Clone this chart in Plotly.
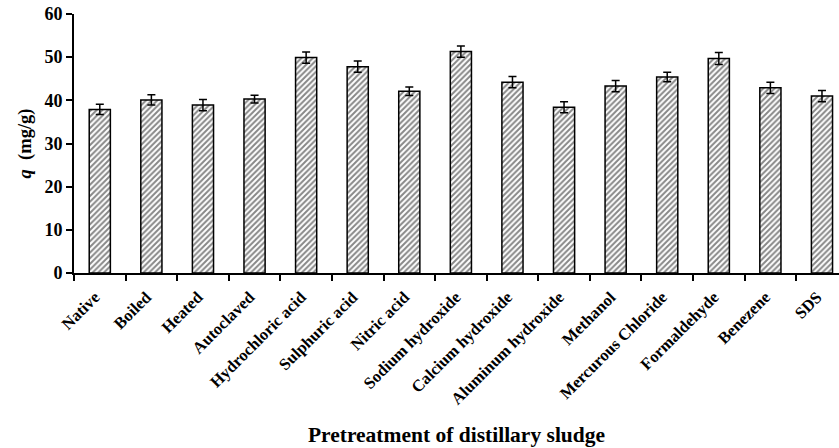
import plotly.graph_objects as go

# Sorption capacity after each pretreatment of distillery sludge
treatments = [
    "Native", "Boiled", "Heated", "Autoclaved", "Hydrochloric acid",
    "Sulphuric acid", "Nitric acid", "Sodium hydroxide", "Calcium hydroxide",
    "Aluminum hydroxide", "Methanol", "Mercurous Chloride", "Formaldehyde",
    "Benezene", "SDS",
]
q_values = [37.9, 40.1, 38.9, 40.3, 49.9, 47.8, 42.1, 51.3, 44.2,
            38.4, 43.3, 45.4, 49.7, 42.9, 41.0]
q_errors = [1.2, 1.2, 1.3, 0.9, 1.3, 1.3, 1.0, 1.3, 1.3,
            1.3, 1.3, 1.1, 1.4, 1.3, 1.3]
y_ticks = [0, 10, 20, 30, 40, 50, 60]

FONT = "Liberation Serif, Times New Roman, serif"

fig = go.Figure(
    go.Bar(
        x=treatments,
        y=q_values,
        width=0.41,
        marker=dict(
            color="white",
            line=dict(color="black", width=1.5),
            pattern=dict(shape="/", fgcolor="#111111", bgcolor="white",
                         size=4, solidity=0.5),
        ),
        error_y=dict(type="data", array=q_errors, visible=True,
                     color="black", thickness=1.5, width=4),
    )
)

fig.update_layout(
    width=839,
    height=448,
    margin=dict(l=74, r=0, t=14, b=175),
    paper_bgcolor="white",
    plot_bgcolor="white",
    showlegend=False,
    font=dict(family=FONT, color="black"),
    xaxis=dict(
        range=[-0.5, 14.33],
        tickangle=-45,
        tickson="boundaries",
        ticks="outside",
        ticklen=6,
        tickwidth=1.5,
        tickcolor="black",
        ticklabelstandoff=6,
        ticklabelshift=-5,
        showline=True,
        linecolor="black",
        linewidth=2,
        showgrid=False,
        tickfont=dict(family=FONT, size=16.5, color="black", weight="bold"),
        title=dict(text="<b>Pretreatment of distillary sludge</b>",
                   font=dict(family=FONT, size=21.5, color="black"),
                   standoff=20),
    ),
    yaxis=dict(
        range=[0, 60],
        tickvals=y_ticks,
        ticks="outside",
        ticklen=6,
        tickwidth=1.5,
        tickcolor="black",
        showline=True,
        linecolor="black",
        linewidth=2,
        showgrid=False,
        zeroline=False,
        tickfont=dict(family=FONT, size=18, color="black", weight="bold"),
        title=dict(text="<b><i>q</i>  (mg/g)</b>",
                   font=dict(family=FONT, size=18.5, color="black"),
                   standoff=8),
    ),
)

fig.write_html("out.html")
